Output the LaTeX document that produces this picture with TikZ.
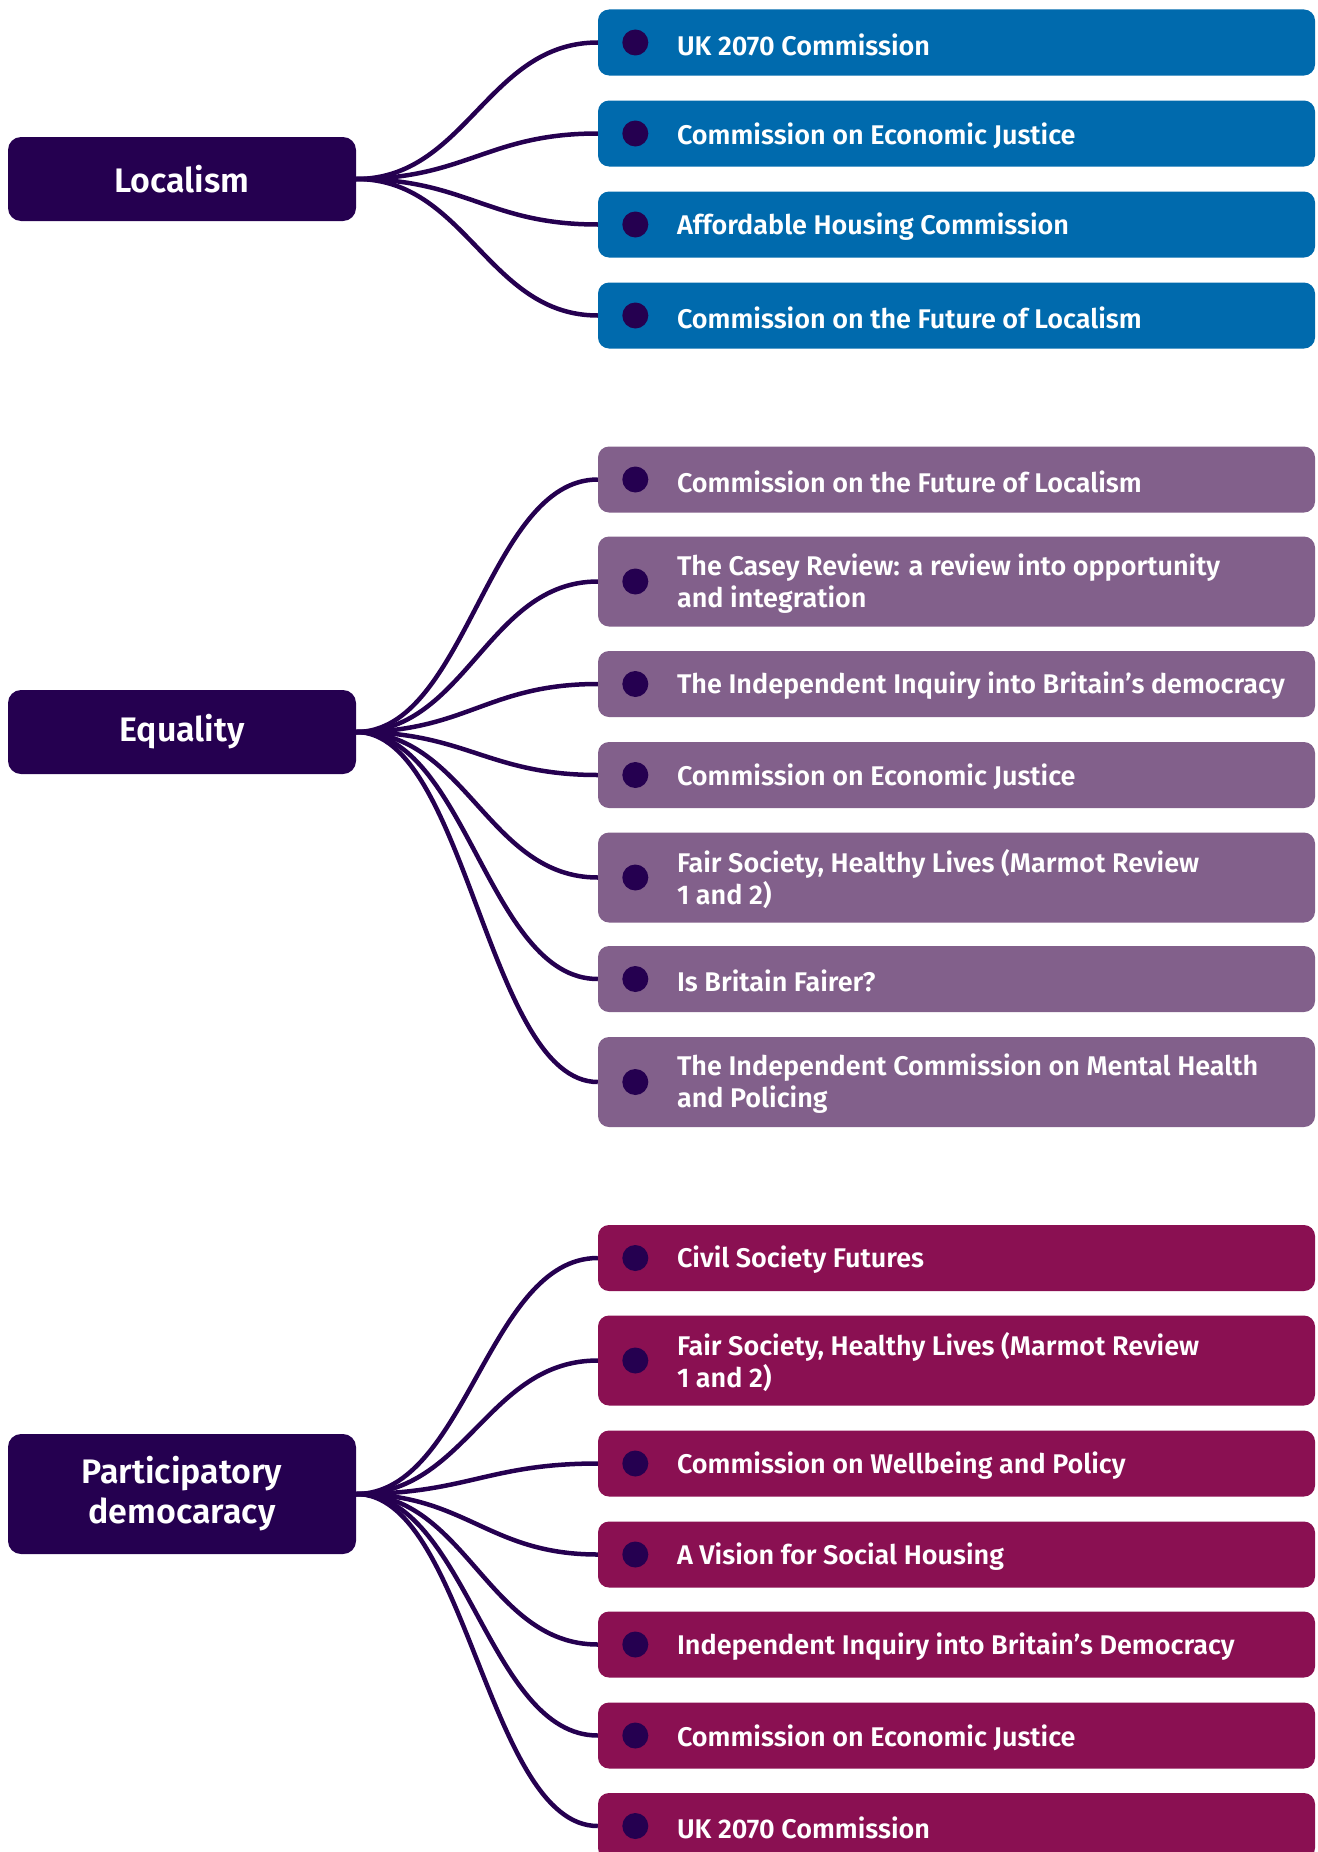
\documentclass[tikz,border=0pt]{standalone}
\usepackage{fontspec}
\setmainfont{Fira Sans}[BoldFont={Fira Sans SemiBold}]
\definecolor{hubpurple}{HTML}{250050}
\definecolor{locblue}{HTML}{006AAD}
\definecolor{equpurple}{HTML}{82608B}
\definecolor{parmagenta}{HTML}{8A1052}

\begin{document}
\begin{tikzpicture}[x=1pt, y=1pt,
		hub/.style={rectangle, rounded corners=13pt, fill=hubpurple, text=white, minimum width=348pt, minimum height=84pt, align=center, font=\fontsize{34}{40}\selectfont\bfseries},
		itembox/.style={rectangle, rounded corners=11pt, minimum width=717pt, minimum height=66pt, inner sep=0pt},
		tall/.style={minimum height=90pt},
		dot/.style={circle, fill=hubpurple, minimum size=26pt, inner sep=0pt, xshift=37.5pt},
		itemtext/.style={anchor=west, inner sep=0pt, text=white, align=left, xshift=79pt, yshift=-2pt, font=\fontsize{27}{32}\selectfont\bfseries},
		branch/.style={draw=hubpurple, line width=4.5pt}]

		\useasboundingbox (0,0) rectangle (1317,-1852);

		\node[hub] (loc) at (182,-179) {Localism};

		\node[itembox, fill=locblue] (l1) at (956.5,-42.5) {};
		\node[dot] (l1dot) at (l1.west) {};
		\node[itemtext] (l1txt) at (l1.west) {UK 2070 Commission};

		\node[itembox, fill=locblue] (l2) at (956.5,-133.5) {};
		\node[dot] (l2dot) at (l2.west) {};
		\node[itemtext] (l2txt) at (l2.west) {Commission on Economic Justice};

		\node[itembox, fill=locblue] (l3) at (956.5,-224.5) {};
		\node[dot] (l3dot) at (l3.west) {};
		\node[itemtext] (l3txt) at (l3.west) {Affordable Housing Commission};

		\node[itembox, fill=locblue] (l4) at (956.5,-315.5) {};
		\node[dot] (l4dot) at (l4.west) {};
		\node[itemtext] (l4txt) at (l4.west) {Commission on the Future of Localism};

		\draw[branch] (loc.east) .. controls +(110,0) and +(-110,0) .. (l1.west);
		\draw[branch] (loc.east) .. controls +(110,0) and +(-110,0) .. (l2.west);
		\draw[branch] (loc.east) .. controls +(110,0) and +(-110,0) .. (l3.west);
		\draw[branch] (loc.east) .. controls +(110,0) and +(-110,0) .. (l4.west);

		\node[hub] (equ) at (182,-732) {Equality};

		\node[itembox, fill=equpurple] (e1) at (956.5,-479.5) {};
		\node[dot] (e1dot) at (e1.west) {};
		\node[itemtext] (e1txt) at (e1.west) {Commission on the Future of Localism};

		\node[itembox, tall, fill=equpurple] (e2) at (956.5,-581.5) {};
		\node[dot] (e2dot) at (e2.west) {};
		\node[itemtext] (e2txt) at (e2.west) {The Casey Review: a review into opportunity\\and integration};

		\node[itembox, fill=equpurple] (e3) at (956.5,-684) {};
		\node[dot] (e3dot) at (e3.west) {};
		\node[itemtext] (e3txt) at (e3.west) {The Independent Inquiry into Britain’s democracy};

		\node[itembox, fill=equpurple] (e4) at (956.5,-775) {};
		\node[dot] (e4dot) at (e4.west) {};
		\node[itemtext] (e4txt) at (e4.west) {Commission on Economic Justice};

		\node[itembox, tall, fill=equpurple] (e5) at (956.5,-877.5) {};
		\node[dot] (e5dot) at (e5.west) {};
		\node[itemtext] (e5txt) at (e5.west) {Fair Society, Healthy Lives (Marmot Review\\1 and 2)};

		\node[itembox, fill=equpurple] (e6) at (956.5,-979) {};
		\node[dot] (e6dot) at (e6.west) {};
		\node[itemtext] (e6txt) at (e6.west) {Is Britain Fairer?};

		\node[itembox, tall, fill=equpurple] (e7) at (956.5,-1082) {};
		\node[dot] (e7dot) at (e7.west) {};
		\node[itemtext] (e7txt) at (e7.west) {The Independent Commission on Mental Health\\and Policing};

		\draw[branch] (equ.east) .. controls +(110,0) and +(-110,0) .. (e1.west);
		\draw[branch] (equ.east) .. controls +(110,0) and +(-110,0) .. (e2.west);
		\draw[branch] (equ.east) .. controls +(110,0) and +(-110,0) .. (e3.west);
		\draw[branch] (equ.east) .. controls +(110,0) and +(-110,0) .. (e4.west);
		\draw[branch] (equ.east) .. controls +(110,0) and +(-110,0) .. (e5.west);
		\draw[branch] (equ.east) .. controls +(110,0) and +(-110,0) .. (e6.west);
		\draw[branch] (equ.east) .. controls +(110,0) and +(-110,0) .. (e7.west);

		\node[hub, minimum height=120pt] (par) at (182,-1494) {Participatory\\democaracy};

		\node[itembox, fill=parmagenta] (p1) at (956.5,-1258) {};
		\node[dot] (p1dot) at (p1.west) {};
		\node[itemtext] (p1txt) at (p1.west) {Civil Society Futures};

		\node[itembox, tall, fill=parmagenta] (p2) at (956.5,-1360.5) {};
		\node[dot] (p2dot) at (p2.west) {};
		\node[itemtext] (p2txt) at (p2.west) {Fair Society, Healthy Lives (Marmot Review\\1 and 2)};

		\node[itembox, fill=parmagenta] (p3) at (956.5,-1463.5) {};
		\node[dot] (p3dot) at (p3.west) {};
		\node[itemtext] (p3txt) at (p3.west) {Commission on Wellbeing and Policy};

		\node[itembox, fill=parmagenta] (p4) at (956.5,-1554.5) {};
		\node[dot] (p4dot) at (p4.west) {};
		\node[itemtext] (p4txt) at (p4.west) {A Vision for Social Housing};

		\node[itembox, fill=parmagenta] (p5) at (956.5,-1644.5) {};
		\node[dot] (p5dot) at (p5.west) {};
		\node[itemtext] (p5txt) at (p5.west) {Independent Inquiry into Britain’s Democracy};

		\node[itembox, fill=parmagenta] (p6) at (956.5,-1735.5) {};
		\node[dot] (p6dot) at (p6.west) {};
		\node[itemtext] (p6txt) at (p6.west) {Commission on Economic Justice};

		\node[itembox, fill=parmagenta] (p7) at (956.5,-1826) {};
		\node[dot] (p7dot) at (p7.west) {};
		\node[itemtext] (p7txt) at (p7.west) {UK 2070 Commission};

		\draw[branch] (par.east) .. controls +(110,0) and +(-110,0) .. (p1.west);
		\draw[branch] (par.east) .. controls +(110,0) and +(-110,0) .. (p2.west);
		\draw[branch] (par.east) .. controls +(110,0) and +(-110,0) .. (p3.west);
		\draw[branch] (par.east) .. controls +(110,0) and +(-110,0) .. (p4.west);
		\draw[branch] (par.east) .. controls +(110,0) and +(-110,0) .. (p5.west);
		\draw[branch] (par.east) .. controls +(110,0) and +(-110,0) .. (p6.west);
		\draw[branch] (par.east) .. controls +(110,0) and +(-110,0) .. (p7.west);

	\end{tikzpicture}
\end{document}
